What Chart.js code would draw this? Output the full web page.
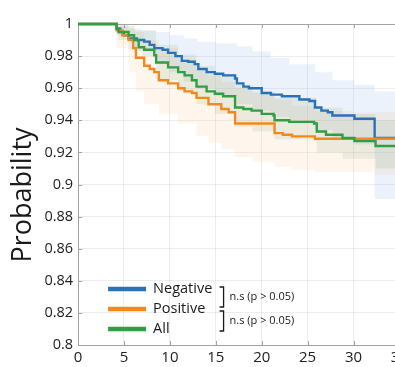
<!DOCTYPE html>
<html><head><meta charset="utf-8">
<script src="https://cdn.jsdelivr.net/npm/chart.js@4/dist/chart.umd.min.js"></script>
<style>
html,body{margin:0;padding:0;overflow:hidden;background:#fff;width:395px;height:367px}
#wrap{position:relative;width:412px;height:372px}
</style></head>
<body><div id="wrap"><canvas id="c" width="412" height="372"></canvas></div>
<script>
// ---- data ----
const xTickValues = [0, 5, 10, 15, 20, 25, 30, 35];
const yTickValues = [0.8, 0.82, 0.84, 0.86, 0.88, 0.9, 0.92, 0.94, 0.96, 0.98, 1];
const yTickLabels = ['0.8', '0.82', '0.84', '0.86', '0.88', '0.9', '0.92', '0.94', '0.96', '0.98', '1'];
const seriesLabels = ['Negative', 'Positive', 'All'];
const pLabel = 'n.s (p > 0.05)';

const negTimes = [0, 4.2, 4.6, 5.0, 5.5, 6.4, 7.2, 7.8, 8.3, 9.2, 9.8, 10.6, 11.3, 12.0, 12.7, 13.1, 14.0, 14.9, 15.8, 17.1, 17.3, 18.0, 18.6, 20.0, 21.0, 22.2, 24.1, 25.2, 25.8, 26.5, 27.2, 27.7, 30.1, 32.3, 35];
const negSurv  = [1, 0.997, 0.995, 0.993, 0.991, 0.990, 0.989, 0.987, 0.985, 0.984, 0.982, 0.980, 0.977, 0.9765, 0.975, 0.972, 0.970, 0.969, 0.968, 0.966, 0.963, 0.961, 0.960, 0.957, 0.956, 0.955, 0.953, 0.952, 0.948, 0.946, 0.945, 0.943, 0.941, 0.929, 0.929];

const posTimes = [0, 4.2, 4.8, 5.5, 6.0, 6.3, 7.2, 7.8, 8.3, 8.8, 9.8, 10.9, 11.6, 12.4, 12.9, 14.2, 15.6, 16.4, 17.1, 21.4, 22.3, 23.3, 25.8, 35];
const posSurv  = [1, 0.996, 0.993, 0.990, 0.985, 0.979, 0.974, 0.972, 0.970, 0.965, 0.963, 0.960, 0.958, 0.957, 0.954, 0.950, 0.947, 0.945, 0.938, 0.932, 0.931, 0.930, 0.9285, 0.9285];

const allTimes = [0, 4.2, 4.4, 5.5, 6.1, 6.6, 7.2, 8.3, 8.5, 9.8, 10.9, 11.6, 12.4, 12.9, 14.0, 14.9, 15.8, 17.1, 18.0, 18.9, 20.0, 21.3, 21.4, 23.0, 25.7, 26.0, 27.0, 28.8, 30.1, 32.4, 35];
const allSurv  = [1, 0.997, 0.995, 0.993, 0.990, 0.9855, 0.984, 0.9805, 0.976, 0.973, 0.970, 0.968, 0.965, 0.961, 0.958, 0.9565, 0.955, 0.948, 0.947, 0.946, 0.944, 0.943, 0.940, 0.939, 0.938, 0.933, 0.931, 0.929, 0.927, 0.924, 0.924];

const negBandTimes = [0, 4.2, 5.5, 7, 8.5, 10, 11.5, 13, 15, 17.3, 19, 21, 23, 25.8, 27.7, 30.1, 32.3, 35];
const negUpper = [1, 0.999, 0.997, 0.996, 0.995, 0.993, 0.991, 0.989, 0.988, 0.986, 0.983, 0.979, 0.975, 0.970, 0.965, 0.962, 0.958, 0.958];
const negLower = [1, 0.993, 0.984, 0.980, 0.975, 0.970, 0.964, 0.960, 0.955, 0.950, 0.946, 0.942, 0.939, 0.934, 0.928, 0.925, 0.891, 0.891];

const posBandTimes = [0, 4.2, 5.5, 6.3, 7.2, 8.8, 10.9, 12.9, 14.2, 15.6, 17.1, 19, 21.4, 23.3, 25.8, 30, 32.3, 35];
const posUpper = [1, 0.999, 0.998, 0.995, 0.990, 0.985, 0.978, 0.972, 0.968, 0.964, 0.960, 0.957, 0.953, 0.949, 0.946, 0.945, 0.945, 0.945];
const posLower = [1, 0.985, 0.970, 0.958, 0.950, 0.944, 0.938, 0.930, 0.926, 0.922, 0.917, 0.914, 0.911, 0.909, 0.908, 0.908, 0.906, 0.906];

const allBandTimes = [0, 4.4, 6.1, 8.5, 10.9, 12.9, 14.9, 17.1, 19, 21.4, 26, 28.8, 32.4, 35];
const allUpper = [1, 0.999, 0.996, 0.987, 0.981, 0.974, 0.969, 0.962, 0.958, 0.954, 0.948, 0.944, 0.940, 0.940];
const allLower = [1, 0.990, 0.983, 0.965, 0.958, 0.950, 0.944, 0.936, 0.933, 0.928, 0.920, 0.916, 0.910, 0.910];

// ---- styles ----
const COL = { neg: '#2a72b8', pos: '#f08a1f', all: '#2ea043' };
const BAND = { neg: 'rgba(120,170,225,0.15)', pos: 'rgba(250,175,110,0.12)', all: 'rgba(110,160,100,0.12)' };
const FONT = "'Open Sans', 'Liberation Sans', sans-serif";

const pts = (t, v) => t.map((x, i) => ({ x, y: v[i] }));
function band(t, v, color, fill, order) {
  return { data: pts(t, v), stepped: 'before', borderWidth: 0, pointRadius: 0,
    backgroundColor: color, borderColor: 'rgba(0,0,0,0)', fill: fill, order: order };
}
function line(label, t, v, color, order) {
  return { label, data: pts(t, v), stepped: 'before', borderWidth: 2.4, pointRadius: 0, clip: 3,
    borderColor: color, backgroundColor: color, fill: false, order: order };
}

const decor = {
  id: 'decor',
  beforeDatasetsDraw(chart) {
    const { ctx, chartArea: a, scales: { x, y } } = chart;
    ctx.save();
    ctx.strokeStyle = '#a3a3a3'; ctx.lineWidth = 1;
    ctx.beginPath();
    ctx.moveTo(a.left, a.top + 0.5); ctx.lineTo(a.right, a.top + 0.5);
    yTickValues.forEach(v => { const py = Math.round(y.getPixelForValue(v)) + 0.5; ctx.moveTo(a.left, py); ctx.lineTo(a.left + 4, py); });
    xTickValues.forEach(v => { const px = Math.round(x.getPixelForValue(v)) + 0.5;
      ctx.moveTo(px, a.bottom); ctx.lineTo(px, a.bottom - 4);
      ctx.moveTo(px, a.top); ctx.lineTo(px, a.top + 4); });
    ctx.stroke();
    ctx.restore();
  },
  afterDatasetsDraw(chart) {
    const { ctx, chartArea: a } = chart;
    ctx.save();
    const cols = [COL.neg, COL.pos, COL.all];
    const ly = [a.bottom - 56, a.bottom - 36, a.bottom - 16];
    ctx.lineWidth = 4.5; ctx.lineCap = 'butt';
    ctx.font = '14.5px ' + FONT; ctx.fillStyle = '#1a1a1a'; ctx.textBaseline = 'middle'; ctx.textAlign = 'left';
    seriesLabels.forEach((s, i) => {
      ctx.strokeStyle = cols[i];
      ctx.beginPath(); ctx.moveTo(a.left + 30, ly[i]); ctx.lineTo(a.left + 68, ly[i]); ctx.stroke();
      ctx.fillText(s, a.left + 75, ly[i]);
    });
    ctx.strokeStyle = '#1a1a1a'; ctx.lineWidth = 1.3;
    const bx = a.left + 145.5;
    [[ly[0] - 2, ly[1] - 2], [ly[1] + 2, ly[2] + 2]].forEach(([y0, y1]) => {
      ctx.beginPath(); ctx.moveTo(bx - 4, y0); ctx.lineTo(bx, y0); ctx.lineTo(bx, y1); ctx.lineTo(bx - 4, y1); ctx.stroke();
      ctx.font = '11px ' + FONT;
      ctx.fillText(pLabel, bx + 6, (y0 + y1) / 2);
    });
    ctx.restore();
  }
};

new Chart(document.getElementById('c'), {
  type: 'line',
  data: {
    datasets: [
      band(negBandTimes, negUpper, BAND.neg, '+1', 5),
      band(negBandTimes, negLower, BAND.neg, false, 5),
      band(posBandTimes, posUpper, BAND.pos, '+1', 4),
      band(posBandTimes, posLower, BAND.pos, false, 4),
      band(allBandTimes, allUpper, BAND.all, '+1', 3),
      band(allBandTimes, allLower, BAND.all, false, 3),
      line(seriesLabels[0], negTimes, negSurv, COL.neg, 2),
      line(seriesLabels[1], posTimes, posSurv, COL.pos, 1),
      line(seriesLabels[2], allTimes, allSurv, COL.all, 0)
    ]
  },
  options: {
    responsive: false, animation: false, devicePixelRatio: 1,
    layout: { padding: { left: 7, right: 6, top: 24, bottom: 1 } },
    plugins: { legend: { display: false }, tooltip: { enabled: false } },
    scales: {
      x: { type: 'linear', min: 0, max: 35,
        afterBuildTicks: s => { s.ticks = xTickValues.map(v => ({ value: v })); },
        ticks: { color: '#222', font: { family: FONT, size: 15 }, padding: 4, maxRotation: 0 },
        grid: { color: 'rgba(0,0,0,0.07)', drawTicks: false },
        border: { color: '#a3a3a3' } },
      y: { min: 0.8, max: 1,
        afterBuildTicks: s => { s.ticks = yTickValues.map(v => ({ value: v })); },
        ticks: { color: '#222', font: { family: FONT, size: 14.5 }, padding: 5,
          callback: (v) => { const i = yTickValues.findIndex(t => Math.abs(t - v) < 1e-9); return i >= 0 ? yTickLabels[i] : ''; } },
        grid: { color: 'rgba(0,0,0,0.07)', drawTicks: false },
        border: { color: '#a3a3a3' },
        title: { display: true, text: 'Probability   ', color: '#1a1a1a', font: { family: FONT, size: 27 }, padding: { top: 0, bottom: 0 } } }
    }
  },
  plugins: [decor]
});
</script>
</body></html>
